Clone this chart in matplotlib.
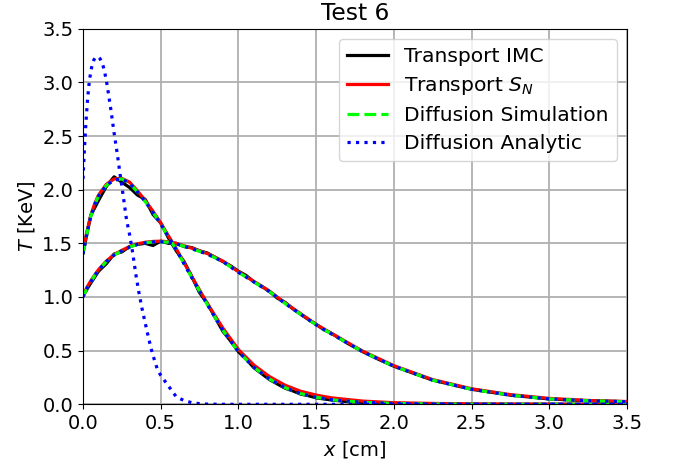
import matplotlib
matplotlib.use("Agg")
import matplotlib.pyplot as plt

plt.rcParams['font.size'] = 14

# ---- data ----
x_fine = [0.0, 0.025, 0.05, 0.075, 0.1, 0.15, 0.2, 0.25, 0.3, 0.35, 0.4, 0.45, 0.5, 0.55,
          0.6, 0.7, 0.8, 0.9, 1.0, 1.1, 1.2, 1.3, 1.4, 1.5, 1.6, 1.8, 2.0, 2.25, 2.5,
          2.75, 3.0, 3.25, 3.5]

diff_A = [1.40, 1.59, 1.75, 1.86, 1.94, 2.04, 2.09, 2.10, 2.06, 1.98, 1.89, 1.79, 1.68, 1.56,
          1.44, 1.18, 0.93, 0.69, 0.49, 0.345, 0.235, 0.155, 0.10, 0.065, 0.042, 0.018, 0.008,
          0.003, 0.001, 0.0, 0.0, 0.0, 0.0]
sn_A = [1.42, 1.61, 1.76, 1.87, 1.95, 2.05, 2.10, 2.105, 2.07, 1.99, 1.90, 1.80, 1.69, 1.57,
        1.45, 1.19, 0.94, 0.71, 0.51, 0.365, 0.258, 0.178, 0.122, 0.086, 0.060, 0.030, 0.015,
        0.008, 0.004, 0.002, 0.001, 0.0, 0.0]

diff_B = [1.00, 1.08, 1.14, 1.20, 1.25, 1.33, 1.39, 1.43, 1.465, 1.49, 1.505, 1.513, 1.515, 1.51,
          1.495, 1.45, 1.40, 1.33, 1.23, 1.14, 1.05, 0.94, 0.84, 0.74, 0.655, 0.49, 0.355,
          0.225, 0.14, 0.085, 0.05, 0.033, 0.024]
sn_B = [1.01, 1.09, 1.15, 1.205, 1.255, 1.335, 1.395, 1.435, 1.47, 1.495, 1.51, 1.518, 1.52, 1.515,
        1.50, 1.455, 1.405, 1.335, 1.235, 1.145, 1.055, 0.945, 0.845, 0.745, 0.66, 0.495, 0.36,
        0.23, 0.145, 0.09, 0.055, 0.036, 0.026]

x_imc = [0.0, 0.05, 0.1, 0.15, 0.2, 0.25, 0.3, 0.35, 0.4, 0.45, 0.5, 0.55, 0.6, 0.65, 0.7,
         0.75, 0.8, 0.85, 0.9, 0.95, 1.0, 1.05, 1.1, 1.15, 1.2, 1.25, 1.3, 1.35, 1.4, 1.45,
         1.5, 1.55, 1.6, 1.7, 1.8, 1.9, 2.0, 2.25, 2.5, 2.75, 3.0, 3.25, 3.5]
imc_A = [1.41, 1.76, 1.90, 2.03, 2.12, 2.07, 2.02, 1.95, 1.91, 1.77, 1.69, 1.55, 1.43, 1.33, 1.19,
         1.04, 0.94, 0.81, 0.68, 0.59, 0.49, 0.42, 0.34, 0.285, 0.23, 0.19, 0.15, 0.125, 0.095,
         0.08, 0.06, 0.05, 0.04, 0.025, 0.015, 0.01, 0.007, 0.003, 0.001, 0.0, 0.0, 0.0, 0.0]
imc_B = [1.01, 1.13, 1.24, 1.31, 1.40, 1.42, 1.47, 1.49, 1.50, 1.48, 1.52, 1.50, 1.50, 1.47, 1.46,
         1.43, 1.41, 1.37, 1.33, 1.29, 1.24, 1.20, 1.14, 1.10, 1.05, 0.99, 0.95, 0.89, 0.84,
         0.79, 0.745, 0.695, 0.66, 0.57, 0.49, 0.42, 0.355, 0.225, 0.14, 0.085, 0.05, 0.033, 0.024]

x_an0 = [0.0, 0.01, 0.02, 0.03, 0.04, 0.05, 0.06, 0.07, 0.08, 0.09, 0.1, 0.11, 0.12, 0.13, 0.14,
         0.15, 0.16, 0.18, 0.2, 0.22, 0.24, 0.26, 0.28, 0.3, 0.32, 0.34, 0.36, 0.38, 0.4, 0.42,
         0.44, 0.46, 0.48, 0.5, 0.52, 0.54, 0.57, 0.6, 0.65, 0.7, 0.75, 0.8, 0.9, 1.0, 3.5]
an0 = [2.10, 2.40, 2.65, 2.85, 3.00, 3.10, 3.17, 3.21, 3.23, 3.24, 3.235, 3.22, 3.19, 3.15, 3.09,
       3.02, 2.93, 2.74, 2.53, 2.34, 2.13, 1.93, 1.72, 1.58, 1.41, 1.21, 1.04, 0.89, 0.76, 0.63,
       0.51, 0.41, 0.32, 0.27, 0.23, 0.19, 0.13, 0.07, 0.035, 0.015, 0.006, 0.002, 0.0, 0.0, 0.0]
an_A = diff_A
an_B = diff_B

labels = ["Transport IMC", "Transport $S_N$", "Diffusion Simulation", "Diffusion Analytic"]

fig = plt.figure(figsize=(6.78, 4.66), dpi=100)
ax = fig.add_axes([0.1224, 0.1324, 0.8024, 0.8060])

lw = 2.3
ax.plot(x_imc, imc_A, color='black', lw=lw, label=labels[0])
ax.plot(x_imc, imc_B, color='black', lw=lw)
ax.plot(x_fine, sn_A, color='red', lw=lw, label=labels[1])
ax.plot(x_fine, sn_B, color='red', lw=lw)
ax.plot(x_fine, diff_A, color='#00ff00', lw=lw, ls='--', label=labels[2])
ax.plot(x_fine, diff_B, color='#00ff00', lw=lw, ls='--')
ax.plot(x_an0, an0, color='blue', lw=lw, ls=':', label=labels[3])
ax.plot(x_fine, an_A, color='blue', lw=lw, ls=':')
ax.plot(x_fine, an_B, color='blue', lw=lw, ls=':')

ax.set_xlim(0, 3.5)
ax.set_ylim(0, 3.5)
ax.set_xticks([0.0, 0.5, 1.0, 1.5, 2.0, 2.5, 3.0, 3.5])
ax.set_yticks([0.0, 0.5, 1.0, 1.5, 2.0, 2.5, 3.0, 3.5])
ax.grid(True, color='#b0b0b0', lw=1.3)
ax.set_axisbelow(True)
ax.set_xlabel("$x$ [cm]")
ax.set_ylabel("$T$ [KeV]")
ax.set_title("Test 6")
ax.legend(loc='upper right', fontsize=14.6, labelspacing=0.45)

fig.savefig("out.png", dpi=100)
